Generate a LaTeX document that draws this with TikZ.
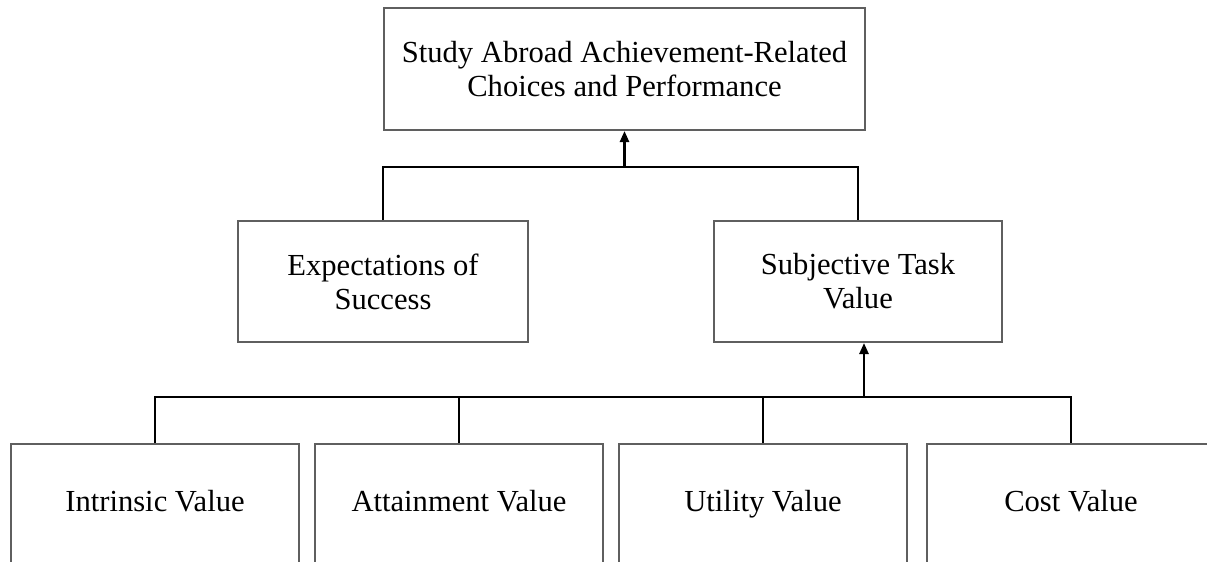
\documentclass[tikz,border=0pt]{standalone}
\usepackage{fontspec}
\setmainfont{Liberation Serif}
\usetikzlibrary{arrows.meta}
\definecolor{boxgray}{RGB}{95,95,95}
\tikzset{
  valuebox/.style={draw=boxgray, line width=1pt, inner sep=0pt, align=center,
    font=\fontsize{15.3}{17}\selectfont},
  link/.style={line width=1.2pt, black},
  uparrow/.style={link, -{Triangle[width=4.5pt,length=5.5pt]}},
}
\begin{document}
\begin{tikzpicture}[x=0.5pt,y=-0.5pt]
  \clip (0,0) rectangle (1207,562);

  %boxes
  \node[valuebox, minimum width=240.5pt, minimum height=61pt] (choices) at (624.5,69) {Study Abroad Achievement-Related\\Choices and Performance};
  \node[valuebox, minimum width=145pt, minimum height=60.5pt] (expect) at (383,281.5) {Expectations of\\Success};
  \node[valuebox, minimum width=144pt, minimum height=60.5pt] (taskval) at (858,281.5) {Subjective Task\\Value};

  %bottom row, cut off at the lower edge
  \foreach \name/\xpos/\txt in {intr/155/Intrinsic Value, attain/459/Attainment Value, util/763/Utility Value, cost/1071/Cost Value}
    \node[valuebox, anchor=north, minimum width=144pt, text height=33.5pt, text depth=48pt] (\name) at (\xpos,443) {\txt};

  %connectors
  \coordinate (topjoin) at (624.5,167);
  \coordinate (lowjoin) at (864,397);
  \draw[link] (expect.north) |- (topjoin) -| (taskval.north);
  \draw[uparrow] (topjoin) -- (choices.south);
  \draw[link] (intr.north) |- (lowjoin) -| (cost.north);
  \draw[link] (attain.north) -- (attain.north |- lowjoin);
  \draw[link] (util.north) -- (util.north |- lowjoin);
  \draw[uparrow] (lowjoin) -- (lowjoin |- taskval.south);
\end{tikzpicture}
\end{document}
